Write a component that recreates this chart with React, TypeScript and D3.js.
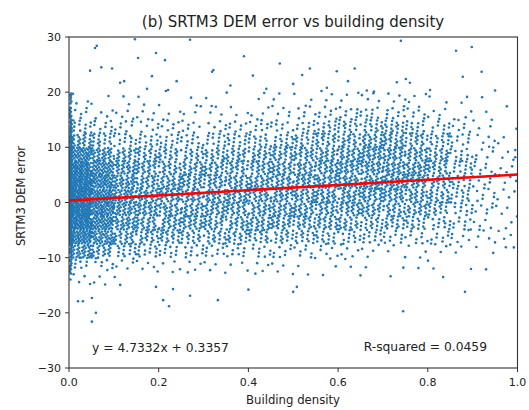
import React from "react";
import * as d3 from "d3";

// ---- data ----
const xTicks = [0, 0.2, 0.4, 0.6, 0.8, 1.0];
const yTicks = [-30, -20, -10, 0, 10, 20, 30];
const fitSlope = 4.7332;
const fitIntercept = 0.3357;

// density grid: columns are building-density bins of 0.05 (0..1), rows are error bins of 2.5 from 17.5..20 down to -15..-12.5
const binLowY = [17.5, 15, 12.5, 10, 7.5, 5, 2.5, 0, -2.5, -5, -7.5, -10, -12.5, -15];
const densityCounts = [
  [3, 2, 2, 2, 1, 2, 2, 1, 2, 2, 3, 2, 3, 4, 4, 3, 2, 2, 1, 0],
  [6, 4, 4, 4, 3, 3, 3, 3, 4, 5, 6, 8, 9, 10, 10, 7, 5, 3, 2, 1],
  [13, 9, 8, 7, 7, 7, 7, 8, 9, 10, 11, 14, 17, 18, 18, 14, 10, 6, 3, 1],
  [28, 18, 14, 13, 12, 12, 13, 14, 16, 17, 18, 22, 24, 26, 26, 22, 16, 10, 5, 2],
  [55, 36, 25, 21, 20, 20, 20, 22, 24, 25, 26, 28, 30, 32, 32, 28, 22, 13, 6, 3],
  [80, 50, 32, 27, 26, 25, 25, 26, 27, 28, 29, 30, 31, 33, 33, 30, 23, 14, 7, 4],
  [90, 58, 36, 30, 29, 28, 28, 28, 29, 30, 30, 32, 32, 33, 33, 30, 23, 14, 7, 4],
  [95, 60, 38, 32, 30, 30, 30, 30, 30, 30, 30, 30, 30, 30, 30, 28, 22, 14, 7, 4],
  [95, 60, 38, 32, 30, 30, 28, 28, 28, 28, 28, 28, 27, 27, 25, 23, 19, 12, 6, 3],
  [85, 55, 34, 28, 28, 27, 26, 26, 26, 26, 25, 24, 22, 21, 19, 17, 14, 9, 5, 3],
  [65, 44, 27, 24, 22, 20, 20, 20, 19, 18, 17, 16, 14, 12, 10, 9, 8, 6, 4, 2],
  [38, 26, 16, 14, 12, 11, 10, 10, 9, 8, 7, 6, 5, 4, 3, 3, 3, 3, 2, 1],
  [12, 8, 5, 4, 3, 3, 3, 3, 3, 3, 2, 2, 2, 1, 1, 1, 2, 1, 1, 0],
  [4, 3, 2, 1, 1, 1, 1, 0, 1, 1, 1, 1, 1, 0, 1, 0, 1, 0, 0, 0],
];
// stacked column of points at (almost) zero building density, per error bin above
const zeroDensityCounts = [6, 8, 12, 15, 20, 20, 20, 20, 20, 20, 20, 12, 6, 3];

// individual outliers
const outlierX = [
  0.147, 0.058, 0.062, 0.047, 0.072, 0.096, 0.154, 0.194, 0.214, 0.27, 0.114, 0.123, 0.185, 0.174,
  0.216, 0.221, 0.24, 0.319, 0.322, 0.36, 0.41, 0.44, 0.47, 0.5, 0.39, 0.009,
  0.74, 0.863, 0.898, 0.92, 0.878, 0.537, 0.52, 0.597, 0.637, 0.622, 0.731, 0.751, 0.76, 0.95,
  0.563, 0.575, 0.664, 0.68, 0.805, 0.995, 0.995,
  0.02, 0.031, 0.051, 0.06, 0.051, 0.194, 0.21, 0.223, 0.232, 0.27, 0.332, 0.5, 0.508, 0.745,
  0.883, 0.4, 0.974, 0.985,
];
const outlierY = [
  29.6, 28.0, 28.4, 23.9, 24.5, 24.3, 26.2, 27.1, 25.8, 29.5, 21.7, 22.0, 22.9, 20.6,
  20.2, 20.4, 22.0, 23.7, 24.0, 21.2, 23.0, 20.6, 25.2, 21.5, 26.5, 19.7,
  29.3, 27.5, 28.2, 23.7, 22.8, 24.3, 23.1, 23.8, 24.3, 22.0, 21.8, 22.4, 21.7, 20.3,
  20.2, 20.8, 20.3, 20.1, 20.4, 9.5, 8.2,
  -17.9, -17.9, -17.3, -20.0, -21.6, -15.3, -17.7, -18.8, -15.7, -16.9, -17.7, -16.2, -15.3, -19.7,
  -16.2, -15.8, -8.1, -5.9,
];

// ---- layout ----
const W = 529;
const H = 410;
const M = { left: 69, right: 517.5, top: 37, bottom: 368 };
const BLUE = "#1f77b4";
const FONT = "DejaVu Sans, sans-serif";

function frac(v: number) {
  return v - Math.floor(v);
}

export default function App() {
  const x = d3.scaleLinear().domain([0, 1]).range([M.left, M.right]);
  const y = d3.scaleLinear().domain([-30, 30]).range([M.bottom, M.top]);

  const pts: [number, number][] = [];
  const colW = 1 / densityCounts[0].length;
  densityCounts.forEach((row, r) => {
    row.forEach((n, c) => {
      const base = (r * 20 + c) * 1009 + 17;
      for (let k = 0; k < n; k++) {
        const idx = base + k;
        const u = frac(0.5 + idx * 0.7548776662);
        const v = frac(0.5 + idx * 0.569840291);
        pts.push([c * colW + u * colW, binLowY[r] + v * 2.5]);
      }
    });
  });
  zeroDensityCounts.forEach((n, r) => {
    const base = 400000 + r * 1013;
    for (let k = 0; k < n; k++) {
      const idx = base + k;
      const u = frac(0.5 + idx * 0.7548776662);
      const v = frac(0.5 + idx * 0.569840291);
      pts.push([0.002 + u * 0.004, binLowY[r] + v * 2.5]);
    }
  });
  outlierX.forEach((ox, i) => pts.push([ox, outlierY[i]]));

  const line = d3
    .line<number>()
    .x((d) => x(d))
    .y((d) => y(fitSlope * d + fitIntercept));

  return (
    <svg width={W} height={H} style={{ position: "absolute", left: 0, top: 0, background: "#fff" }}>
      <defs>
        <clipPath id="plotclip">
          <rect x={M.left} y={M.top} width={M.right - M.left} height={M.bottom - M.top} />
        </clipPath>
      </defs>
      <rect x={0} y={0} width={W} height={H} fill="#fff" />
      <g clipPath="url(#plotclip)">
        {pts.map((p, i) => (
          <circle key={i} cx={x(p[0])} cy={y(p[1])} r={1.3} fill={BLUE} />
        ))}
        <path d={line([0, 1]) || ""} stroke="#ff0000" strokeWidth={2.6} fill="none" />
      </g>
      <rect
        x={M.left}
        y={M.top}
        width={M.right - M.left}
        height={M.bottom - M.top}
        fill="none"
        stroke="#333"
        strokeWidth={1.1}
      />
      {xTicks.map((t) => (
        <g key={"x" + t}>
          <line x1={x(t)} x2={x(t)} y1={M.bottom} y2={M.bottom + 4} stroke="#333" strokeWidth={1} />
          <text x={x(t)} y={386} fontSize={11} fontFamily={FONT} textAnchor="middle" fill="#222">
            {t.toFixed(1)}
          </text>
        </g>
      ))}
      {yTicks.map((t) => (
        <g key={"y" + t}>
          <line x1={M.left - 4} x2={M.left} y1={y(t)} y2={y(t)} stroke="#333" strokeWidth={1} />
          <text x={61} y={y(t) + 4} fontSize={11} fontFamily={FONT} textAnchor="end" fill="#222">
            {t < 0 ? "\u2212" + Math.abs(t) : String(t)}
          </text>
        </g>
      ))}
      <text x={293} y={27} fontSize={15} fontFamily={FONT} textAnchor="middle" fill="#222">
        (b) SRTM3 DEM error vs building density
      </text>
      <text x={293} y={404} fontSize={11.7} fontFamily={FONT} textAnchor="middle" fill="#222">
        Building density
      </text>
      <text
        transform={`translate(25,196) rotate(-90)`}
        fontSize={11.5}
        fontFamily={FONT}
        textAnchor="middle"
        fill="#222"
      >
        SRTM3 DEM error
      </text>
      <text x={92} y={352} fontSize={12.3} fontFamily={FONT} fill="#222">
        y = 4.7332x + 0.3357
      </text>
      <text x={487} y={351} fontSize={12.3} fontFamily={FONT} textAnchor="end" fill="#222">
        R-squared = 0.0459
      </text>
    </svg>
  );
}
